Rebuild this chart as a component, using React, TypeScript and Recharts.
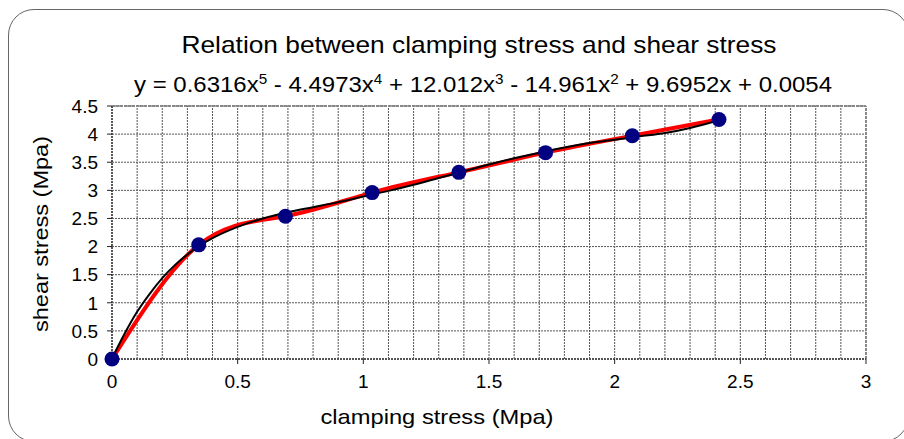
import React from "react";
import {
  ComposedChart,
  Line,
  Scatter,
  XAxis,
  YAxis,
  CartesianGrid,
  ReferenceLine,
} from "recharts";

// measured points
const clampingStress = [0, 0.345, 0.69, 1.035, 1.38, 1.725, 2.07, 2.415];
const shearStress = [0, 2.03, 2.54, 2.96, 3.32, 3.67, 3.97, 4.26];

// poly trendline
const trendX = [0, 0.05, 0.1, 0.15, 0.2, 0.25, 0.3, 0.35, 0.4, 0.5, 0.6, 0.7, 0.8, 0.9, 1.0, 1.1, 1.2, 1.3, 1.4, 1.5, 1.6, 1.7, 1.8, 1.9, 2.0, 2.1, 2.2, 2.3, 2.4, 2.415];
const trendY = [0.01, 0.45, 0.84, 1.16, 1.44, 1.67, 1.86, 2.02, 2.15, 2.35, 2.5, 2.61, 2.7, 2.79, 2.89, 2.99, 3.1, 3.22, 3.34, 3.46, 3.57, 3.67, 3.76, 3.84, 3.9, 3.96, 4.02, 4.11, 4.23, 4.25];

const xTicks = [0, 0.5, 1, 1.5, 2, 2.5, 3];
const yTicks = [0, 0.5, 1, 1.5, 2, 2.5, 3, 3.5, 4, 4.5];
const minorX = [0.1, 0.2, 0.3, 0.4, 0.5, 0.6, 0.7, 0.8, 0.9, 1, 1.1, 1.2, 1.3, 1.4, 1.5, 1.6, 1.7, 1.8, 1.9, 2, 2.1, 2.2, 2.3, 2.4, 2.5, 2.6, 2.7, 2.8, 2.9];

const title = "Relation between clamping stress and shear stress";
const xLabel = "clamping stress (Mpa)";
const yLabel = "shear stress (Mpa)";

const points = clampingStress.map((x, i) => ({ x, y: shearStress[i] }));
const trend = trendX.map((x, i) => ({ x, y: trendY[i] }));

const FONT = "'Liberation Sans', Arial, sans-serif";
const gridStroke = "#555";

export default function App() {
  return (
    <div
      style={{
        position: "fixed",
        left: 0,
        top: 0,
        width: 904,
        height: 439,
        overflow: "hidden",
        background: "#fff",
        fontFamily: FONT,
      }}
    >
      <div
        style={{
          position: "absolute",
          left: 8,
          top: 9,
          width: 901,
          height: 433,
          border: "1.5px solid #666",
          borderRadius: 26,
          boxSizing: "border-box",
        }}
      />
      <div style={{ position: "absolute", left: 0, top: 0 }}>
        <ComposedChart
          width={904}
          height={439}
          margin={{ top: 106, right: 38, bottom: 40, left: 52 }}
        >
          <CartesianGrid
            vertical={false}
            stroke={gridStroke}
            strokeDasharray="2 1"
          />
          {minorX.map((v) => (
            <ReferenceLine
              key={v}
              x={v}
              stroke={gridStroke}
              strokeDasharray="2 1"
            />
          ))}
          <ReferenceLine x={3} stroke="#888" strokeWidth={2} strokeDasharray="3 1" />
          <ReferenceLine y={4.5} stroke="#888" strokeWidth={2} strokeDasharray="3 1" />
          <XAxis
            type="number"
            dataKey="x"
            domain={[0, 3]}
            ticks={xTicks}
            height={40}
            tick={{ fontSize: 19, fill: "#000", fontFamily: FONT }}
            tickSize={5}
            tickMargin={11}
            axisLine={{ stroke: "#555", strokeWidth: 2, strokeDasharray: "2 1" }}
            tickLine={{ stroke: "#222" }}
          />
          <YAxis
            type="number"
            dataKey="y"
            domain={[0, 4.5]}
            ticks={yTicks}
            width={60}
            tick={{ fontSize: 19, fill: "#000", fontFamily: FONT }}
            tickSize={5}
            tickMargin={9}
            axisLine={{ stroke: "#555", strokeWidth: 2, strokeDasharray: "2 1" }}
            tickLine={{ stroke: "#222" }}
          />
          <Line
            data={points}
            dataKey="y"
            type="natural"
            stroke="#ff0000"
            strokeWidth={4}
            dot={false}
            activeDot={false}
            isAnimationActive={false}
          />
          <Line
            data={trend}
            dataKey="y"
            type="monotone"
            stroke="#000"
            strokeWidth={2}
            dot={false}
            activeDot={false}
            isAnimationActive={false}
          />
          <Scatter
            data={points}
            dataKey="y"
            isAnimationActive={false}
            shape={(p: any) => <circle cx={p.cx} cy={p.cy} r={7.5} fill="#000080" />}
          />
        </ComposedChart>
      </div>
      <svg
        width={904}
        height={439}
        style={{ position: "absolute", left: 0, top: 0, pointerEvents: "none" }}
        fontFamily={FONT}
      >
        <text x={479} y={53} textAnchor="middle" fontSize={24} textLength={595} lengthAdjust="spacingAndGlyphs">
          {title}
        </text>
        <text x={483} y={92} textAnchor="middle" fontSize={22} textLength={698} lengthAdjust="spacingAndGlyphs">
          y = 0.6316x<tspan fontSize={14} dy={-8}>5</tspan>
          <tspan dy={8}> - 4.4973x</tspan>
          <tspan fontSize={14} dy={-8}>4</tspan>
          <tspan dy={8}> + 12.012x</tspan>
          <tspan fontSize={14} dy={-8}>3</tspan>
          <tspan dy={8}> - 14.961x</tspan>
          <tspan fontSize={14} dy={-8}>2</tspan>
          <tspan dy={8}> + 9.6952x + 0.0054</tspan>
        </text>
        <text x={437} y={424} textAnchor="middle" fontSize={21} textLength={233} lengthAdjust="spacingAndGlyphs">
          {xLabel}
        </text>
        <text
          x={0}
          y={0}
          transform="translate(48 234) rotate(-90)"
          textAnchor="middle"
          fontSize={21}
          textLength={196}
          lengthAdjust="spacingAndGlyphs"
        >
          {yLabel}
        </text>
      </svg>
    </div>
  );
}
